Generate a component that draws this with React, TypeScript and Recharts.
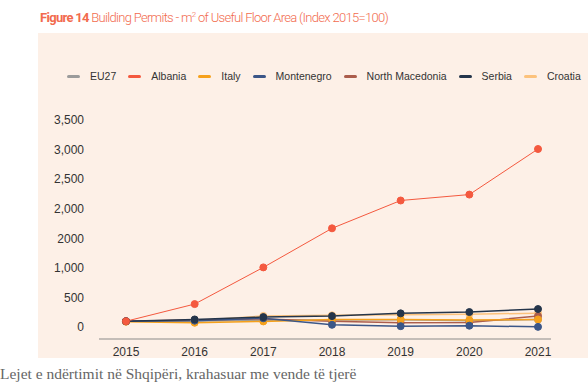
import { LineChart, Line, XAxis, YAxis, Legend } from "recharts";

// values (index 2015 = 100)
const years = ["2015", "2016", "2017", "2018", "2019", "2020", "2021"];
const eu27 = [100, 105, 115, 120, 125, 110, 130];
const albania = [100, 390, 1010, 1670, 2140, 2240, 3010];
const italy = [92, 75, 97, 130, 130, 120, 130];
const montenegro = [100, 110, 150, 40, 17, 25, 5];
const northMacedonia = [100, 120, 140, 100, 75, 80, 187];
const serbia = [100, 130, 170, 187, 233, 255, 306];
const croatia = [100, 110, 190, 200, 210, 220, 235];

const yTicks = [0, 500, 1000, 1500, 2000, 2500, 3000, 3500];
// the source chart labels the 1,500 gridline "2000"
const yLabels = ["0", "500", "1,000", "2000", "2,000", "2,500", "3,000", "3,500"];

const series = [
  { key: "EU27", color: "#9b9b9b", width: 1.5 },
  { key: "Albania", color: "#f4593f", width: 1 },
  { key: "Italy", color: "#f6a11c", width: 1.5 },
  { key: "Montenegro", color: "#3b5688", width: 1.5 },
  { key: "North Macedonia", color: "#ab5d4c", width: 1.5 },
  { key: "Serbia", color: "#24354b", width: 1.5 },
  { key: "Croatia", color: "#fcc27c", width: 1.5 },
];

const data = years.map((year, i) => ({
  year,
  EU27: eu27[i],
  Albania: albania[i],
  Italy: italy[i],
  Montenegro: montenegro[i],
  "North Macedonia": northMacedonia[i],
  Serbia: serbia[i],
  Croatia: croatia[i],
}));

// draw order: small ones first so serbia / montenegro sit on top like the original
const drawOrder = ["EU27", "Croatia", "North Macedonia", "Italy", "Montenegro", "Serbia", "Albania"];

function LegendRow() {
  return (
    <div
      style={{
        display: "flex",
        alignItems: "center",
        paddingLeft: 67,
        whiteSpace: "nowrap",
        fontFamily: "'Liberation Sans', Arial, sans-serif",
        fontSize: 10.5,
        color: "#333",
      }}
    >
      {series.map((s) => (
        <div
          key={s.key}
          style={{ display: "flex", alignItems: "center", marginRight: 12, flexShrink: 0 }}
        >
          <span
            style={{
              display: "inline-block",
              width: 13,
              height: 3,
              borderRadius: 2,
              background: s.color,
              marginRight: 10,
            }}
          />
          <span>{s.key}</span>
        </div>
      ))}
    </div>
  );
}

export default function App() {
  const tickFont = { fill: "#333", fontSize: 12, fontFamily: "'Liberation Sans', Arial, sans-serif" };
  return (
    <div
      style={{
        position: "absolute",
        top: 0,
        left: 0,
        width: 588,
        height: 384,
        background: "#fff",
        overflow: "hidden",
      }}
    >
      <div
        style={{
          position: "absolute",
          left: 38,
          top: 33,
          width: 560,
          height: 325,
          background: "#fdf0e7",
        }}
      />
      <div
        style={{
          position: "absolute",
          left: 40,
          top: 10,
          fontFamily: "Roboto, sans-serif",
          fontSize: 13,
          letterSpacing: -0.7,
          color: "#f26b4e",
          whiteSpace: "nowrap",
        }}
      >
        <span style={{ fontWeight: 700 }}>Figure 14</span>{" "}
        <span style={{ fontWeight: 300 }}>
          Building Permits - m<sup style={{ fontSize: 8 }}>2</sup> of Useful Floor Area (Index 2015=100)
        </span>
      </div>

      <div style={{ position: "absolute", left: 0, top: 0 }}>
        <LineChart
          width={588}
          height={384}
          data={data}
          margin={{ top: 120, right: 37, bottom: 15, left: 0 }}
        >
          <XAxis
            dataKey="year"
            height={30}
            padding={{ left: 27, right: 13 }}
            tickLine={false}
            tickSize={0}
            tickMargin={8}
            axisLine={{ stroke: "#b0aca8", strokeWidth: 1.5 }}
            tick={tickFont}
          />
          <YAxis
            width={99}
            domain={[-200, 3500]}
            ticks={yTicks}
            interval={0}
            axisLine={false}
            tickLine={false}
            tickSize={0}
            tickMargin={15}
            tickFormatter={(v: number) => yLabels[yTicks.indexOf(Number(v))] ?? String(v)}
            tick={tickFont}
          />
          <Legend
            layout="horizontal"
            verticalAlign="middle"
            align="center"
            wrapperStyle={{ top: 70, left: 0, width: 588 }}
            content={() => <LegendRow />}
          />
          {drawOrder.map((key) => {
            const s = series.find((x) => x.key === key)!;
            return (
              <Line
                key={key}
                type="linear"
                dataKey={key}
                stroke={s.color}
                strokeWidth={s.width}
                dot={{ r: 3.5, fill: s.color, stroke: s.color, strokeWidth: 1 }}
                activeDot={false}
                isAnimationActive={false}
              />
            );
          })}
        </LineChart>
      </div>

      <div
        style={{
          position: "absolute",
          left: 0,
          top: 365,
          fontFamily: "'Liberation Serif', 'DejaVu Serif', serif",
          fontSize: 15.5,
          color: "#666",
          whiteSpace: "nowrap",
        }}
      >
        Lejet e ndërtimit në Shqipëri, krahasuar me vende të tjerë
      </div>
    </div>
  );
}
